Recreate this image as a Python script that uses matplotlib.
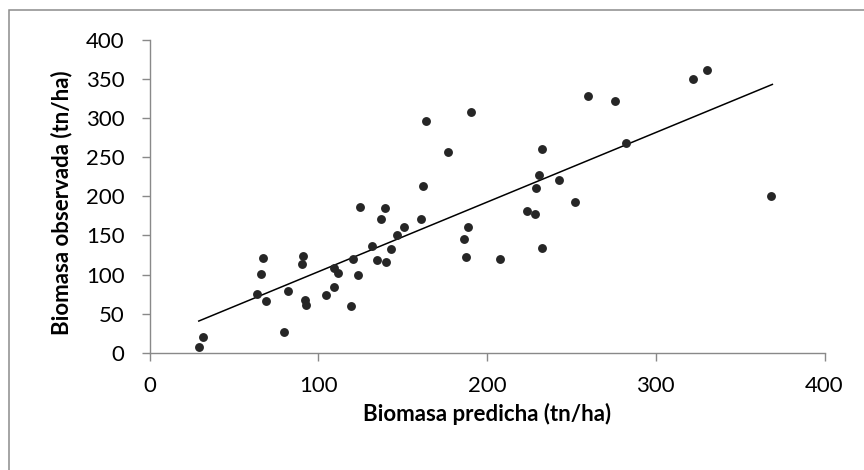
#!/usr/bin/env python3

"""Biomasa observada vs. biomasa predicha, scatter with linear trend."""

import matplotlib as mpl
import matplotlib.pyplot as plt
from matplotlib.patches import Rectangle

mpl.use("Agg")

# Predicted biomass (tn/ha)
predicha = [
    29.5, 31.7, 67.1, 65.9, 63.5, 69.0, 79.9, 82.3, 91.0, 90.4,
    92.0, 92.9, 104.4, 109.5, 111.7, 109.5, 119.4, 120.4, 123.7, 124.9,
    132.0, 134.6, 140.1, 143.1, 146.5, 150.6, 137.4, 139.4, 160.9, 162.3,
    163.7, 176.9, 190.3, 188.6, 186.2, 187.4, 207.7, 223.5, 228.6, 228.9,
    231.0, 232.8, 232.8, 242.8, 252.3, 259.7, 276.0, 282.4, 322.1, 330.2,
    368.5,
]

# Observed biomass (tn/ha)
observada = [
    6.9, 19.7, 120.7, 101.0, 75.4, 66.1, 26.9, 78.9, 123.3, 113.0,
    67.4, 60.6, 73.8, 108.3, 101.9, 83.6, 59.3, 119.4, 99.4, 186.7,
    136.4, 118.8, 116.4, 133.0, 150.5, 160.7, 171.2, 185.0, 170.6, 212.8,
    296.7, 256.6, 307.4, 161.1, 145.8, 122.0, 119.8, 181.2, 177.4, 211.0,
    227.6, 260.5, 134.3, 221.2, 192.7, 327.9, 322.3, 267.8, 350.0, 361.5,
    200.4,
]

# Linear trend line as drawn on the chart
trend_x = [29.2, 369.1]
trend_y = [40.5, 343.2]

ticks = [0, 100, 200, 300, 400]
yticks = [0, 50, 100, 150, 200, 250, 300, 350, 400]

W, H = 864, 470
AXIS_GRAY = "#898989"


def main():
    plt.rcParams["font.family"] = ["Lato", "DejaVu Sans"]

    fig = plt.figure(figsize=(W / 100, H / 100), dpi=100)
    left, right, bottom, top = 149.5, 824.5, 352.7, 40.0
    ax = fig.add_axes([left / W, (H - bottom) / H,
                       (right - left) / W, (bottom - top) / H])

    ax.plot(trend_x, trend_y, color="black", lw=1.1, zorder=2)
    ax.plot(predicha, observada, "o", color="#262626", ms=6.4,
            mec="none", zorder=3)

    ax.set_xlim(0, 400)
    ax.set_ylim(0, 400)
    ax.set_xticks(ticks)
    ax.set_yticks(yticks)

    for side in ("top", "right"):
        ax.spines[side].set_visible(False)
    for side in ("left", "bottom"):
        ax.spines[side].set_color(AXIS_GRAY)
        ax.spines[side].set_linewidth(1.0)

    ax.tick_params(axis="both", direction="out", length=6, width=1.0,
                   color=AXIS_GRAY, labelsize=16, labelcolor="black")
    ax.tick_params(axis="y", pad=12)
    ax.tick_params(axis="x", pad=11)

    ax.set_xlabel("Biomasa predicha (tn/ha)", fontsize=16,
                  fontweight="bold", va="center")
    ax.xaxis.set_label_coords(0.5, (bottom - 414) / (bottom - top))
    ax.set_ylabel("Biomasa observada (tn/ha)", fontsize=16,
                  fontweight="bold", va="center")
    ax.yaxis.set_label_coords((62 - left) / (right - left), 0.48)

    # chart area border (cropped at right and bottom)
    fig.patches.append(Rectangle((9 / W, -0.1), 2.0, (H - 9.5) / H + 0.1,
                                 transform=fig.transFigure, fill=False,
                                 edgecolor="#8c8c8c", lw=1.1))

    fig.savefig("out.png", dpi=100)


if __name__ == "__main__":
    main()
